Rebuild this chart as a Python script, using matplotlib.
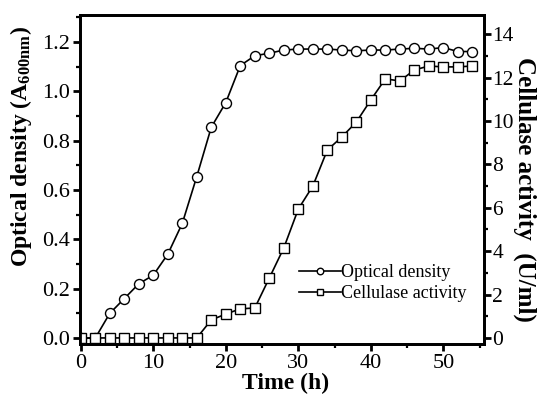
import matplotlib
matplotlib.use("Agg")
import matplotlib.pyplot as plt
from matplotlib.ticker import MultipleLocator

plt.rcParams['font.family'] = ['Liberation Serif', 'DejaVu Serif']
plt.rcParams['mathtext.fontset'] = 'custom'
plt.rcParams['mathtext.rm'] = 'Liberation Serif'
plt.rcParams['mathtext.bf'] = 'Liberation Serif:bold'
plt.rcParams['mathtext.it'] = 'Liberation Serif:italic'

time_h = [0, 2, 4, 6, 8, 10, 12, 14, 16, 18, 20, 22, 24, 26, 28, 30, 32, 34,
          36, 38, 40, 42, 44, 46, 48, 50, 52, 54]
optical_density = [0.0, 0.0, 0.10, 0.16, 0.22, 0.255, 0.34, 0.465, 0.655, 0.855,
                   0.955, 1.105, 1.145, 1.155, 1.168, 1.172, 1.172, 1.172,
                   1.168, 1.165, 1.168, 1.168, 1.172, 1.175, 1.172, 1.178,
                   1.162, 1.162]
cellulase = [0.0, 0.0, 0.0, 0.0, 0.0, 0.0, 0.0, 0.0, 0.0, 0.83, 1.1, 1.34,
             1.38, 2.76, 4.15, 5.94, 7.0, 8.66, 9.26, 9.95, 10.97, 11.94,
             11.84, 12.35, 12.53, 12.49, 12.49, 12.53]

fig = plt.figure(figsize=(5.42, 4.05), dpi=100)
ax = fig.add_axes([0.1476, 0.1506, 0.7454, 0.8123])
ax2 = ax.twinx()

l1, = ax.plot(time_h, optical_density, color='black', lw=1.2, marker='o',
              ms=7.2, mfc='white', mec='black', mew=1.0, label='Optical density')
l2, = ax2.plot(time_h, cellulase, color='black', lw=1.2, marker='s',
               ms=7.2, mfc='white', mec='black', mew=1.0, label='Cellulase activity')

ax.set_xlim(-0.1, 55.6)
ax.set_ylim(-0.024, 1.31)
ax2.set_ylim(-0.28, 14.88)

ax.xaxis.set_major_locator(MultipleLocator(10))
ax.xaxis.set_minor_locator(MultipleLocator(5))
ax.yaxis.set_major_locator(MultipleLocator(0.2))
ax.yaxis.set_minor_locator(MultipleLocator(0.1))
ax.yaxis.set_major_formatter(matplotlib.ticker.FormatStrFormatter('%.1f'))
ax2.yaxis.set_major_locator(MultipleLocator(2))
ax2.yaxis.set_minor_locator(MultipleLocator(1))

for a in (ax, ax2):
    for s in a.spines.values():
        s.set_linewidth(2.0)
    a.tick_params(which='major', direction='out', length=5, width=2.0,
                  labelsize=16, pad=2)
    a.tick_params(which='minor', direction='out', length=3, width=1.6)
ax.tick_params(top=False, right=False, which='both')
ax2.tick_params(left=False, which='both')
ax2.tick_params(axis='y', pad=1, labelsize=15.5)

ax.set_xlabel('Time (h)', fontsize=17, fontweight='bold', labelpad=0)
ax.xaxis.label.set_x(0.51)
ax.set_ylabel(r'Optical density (A$_{\mathbf{600nm}}$)', fontsize=17,
              fontweight='bold', labelpad=6)
ax.yaxis.label.set_y(0.60)
ax2.set_ylabel('Cellulase activity  (U/ml)', fontsize=18, fontweight='bold',
               rotation=270, labelpad=16)
ax2.yaxis.label.set_y(0.47)

leg = ax2.legend(handles=[l1, l2], loc='center left',
                 bbox_to_anchor=(0.52, 0.185), frameon=False, fontsize=13,
                 markerscale=0.65, handlelength=2.3, handletextpad=0.0,
                 labelspacing=0.25, borderpad=0)

fig.savefig('out.png', dpi=100)
